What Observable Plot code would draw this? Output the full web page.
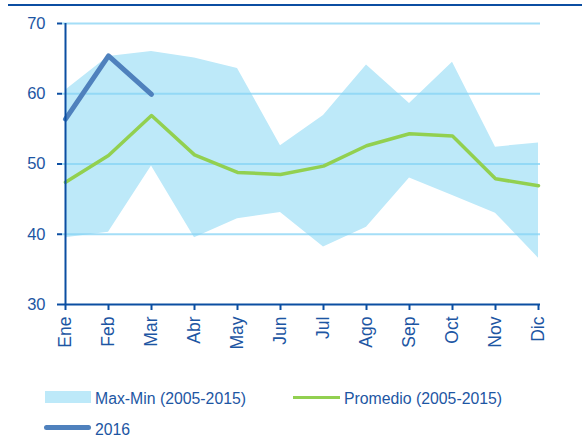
<!DOCTYPE html>
<html>
<head>
<meta charset="utf-8">
<script src="https://cdn.jsdelivr.net/npm/d3@7"></script>
<script src="https://cdn.jsdelivr.net/npm/@observablehq/plot@0.6"></script>
<style>
  html, body { margin:0; padding:0; background:#fff; }
  #wrap { position:relative; width:582px; height:444px; font-family:"Liberation Sans", Arial, sans-serif; color:#1d56a3; }
  #topline { position:absolute; left:8px; right:0; top:4px; height:2px; background:#0b4ea2; }
  #chart { position:absolute; left:0; top:0; }
  .lg { position:absolute; font-size:15.8px; line-height:16px; white-space:nowrap; }
  .sw { position:absolute; }
</style>
</head>
<body>
<div id="wrap">
  <div id="chart"></div>
  <div id="topline"></div>
  <div class="sw" style="left:45px;top:391px;width:46px;height:12px;background:#bde9f9"></div>
  <div class="lg" style="left:95px;top:391px">Max-Min (2005-2015)</div>
  <div class="sw" style="left:293px;top:395.5px;width:47px;height:3px;background:#92d050"></div>
  <div class="lg" style="left:344px;top:391px">Promedio (2005-2015)</div>
  <div class="sw" style="left:44px;top:424.5px;width:47px;height:5px;border-radius:2.5px;background:#4f81bd"></div>
  <div class="lg" style="left:95px;top:422px">2016</div>
</div>
<script>
const months = ["Ene","Feb","Mar","Abr","May","Jun","Jul","Ago","Sep","Oct","Nov","Dic"];
const maxVals = [60.5, 65.3, 66.0, 65.1, 63.6, 52.6, 56.9, 64.1, 58.6, 64.5, 52.4, 53.0];
const minVals = [39.5, 40.3, 49.7, 39.5, 42.2, 43.1, 38.2, 41.0, 48.0, 45.5, 43.0, 36.6];
const avgVals = [47.4, 51.2, 56.9, 51.3, 48.8, 48.5, 49.7, 52.6, 54.3, 54.0, 47.9, 46.9];
const months2016 = ["Ene","Feb","Mar"];
const vals2016 = [56.4, 65.4, 59.9];
const yTicks = [30, 40, 50, 60, 70];
const gridVals = [40, 50, 60, 70];

const rows = months.map((m, i) => ({month: m, max: maxVals[i], min: minVals[i], avg: avgVals[i]}));
const rows2016 = months2016.map((m, i) => ({month: m, v: vals2016[i]}));

const axisColor = "#0b4ea2";
const chart = Plot.plot({
  width: 582,
  height: 370,
  marginTop: 23,
  marginLeft: 62,
  marginRight: 42,
  marginBottom: 66,
  x: {type: "point", domain: months, padding: 0},
  y: {domain: [30, 70]},
  style: {fontFamily: "'Liberation Sans', Arial, sans-serif", color: "#1d56a3", background: "transparent", overflow: "visible"},
  marks: [
    Plot.areaY(rows, {x: "month", y1: "min", y2: "max", fill: "#bde9f9"}),
    Plot.ruleY(gridVals, {stroke: "#86d3f4", strokeWidth: 2, strokeOpacity: 0.75}),
    Plot.line(rows, {x: "month", y: "avg", stroke: "#92d050", strokeWidth: 3.5}),
    Plot.line(rows2016, {x: "month", y: "v", stroke: "#4f81bd", strokeWidth: 5, strokeLinecap: "round", strokeLinejoin: "round"}),
    Plot.ruleY([30], {stroke: axisColor, strokeWidth: 2}),
    Plot.ruleX([months[0]], {y1: 30, y2: 70, stroke: axisColor, strokeWidth: 2}),
    Plot.axisY({ticks: yTicks, tickSize: 5, tickPadding: 12, fontSize: 16.5, stroke: axisColor, strokeWidth: 2, label: null}),
    Plot.axisX({tickRotate: -90, tickSize: 6, tickPadding: 6, fontSize: 17.5, stroke: axisColor, strokeWidth: 2, label: null})
  ]
});
document.getElementById("chart").appendChild(chart);
</script>
</body>
</html>
